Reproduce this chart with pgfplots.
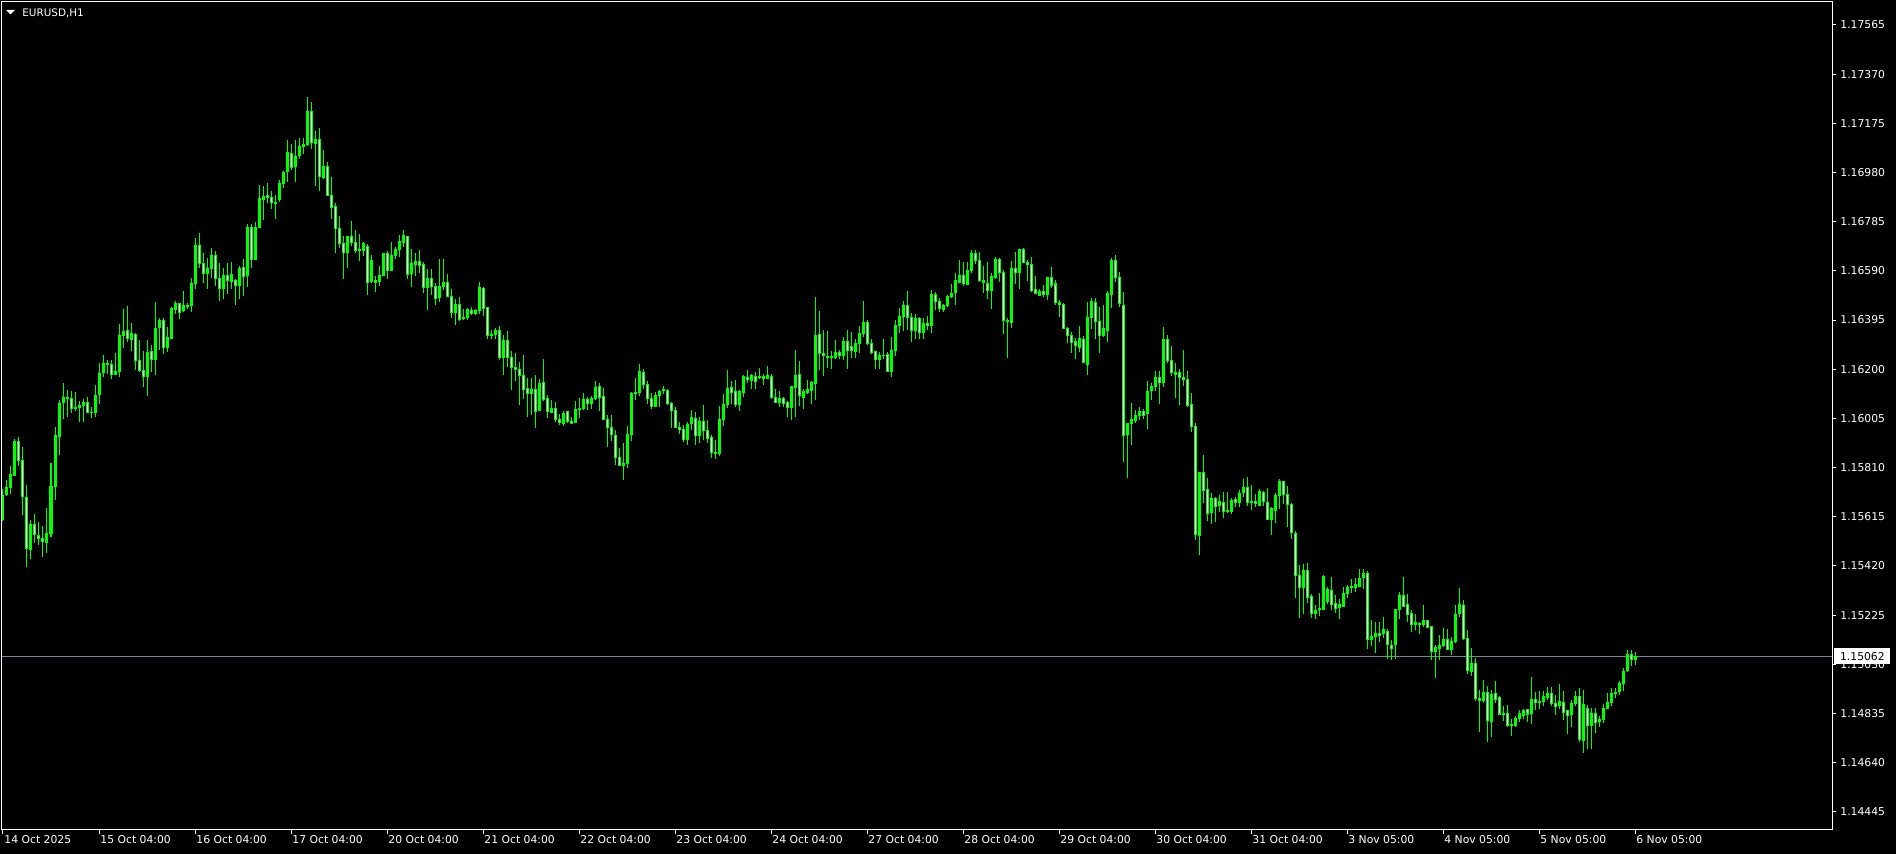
\documentclass[border=0pt]{standalone}
\usepackage{fontspec}
\setmainfont{DejaVu Sans}
\usepackage{pgfplots}
\usepackage{pgfplotstable}
\pgfplotsset{compat=1.18}
\definecolor{bar}{RGB}{0,255,0}
\definecolor{pline}{RGB}{119,136,153}

% EURUSD H1 candles: bar index, open, high, low, close
\pgfplotstableread{
i o h l c
0 1.15606 1.15727 1.15599 1.15698
1 1.15702 1.15760 1.15697 1.15731
2 1.15730 1.15816 1.15705 1.15783
3 1.15779 1.15923 1.15776 1.15914
4 1.15912 1.15931 1.15816 1.15837
5 1.15838 1.15890 1.15622 1.15694
6 1.15692 1.15741 1.15417 1.15488
7 1.15484 1.15602 1.15448 1.15586
8 1.15585 1.15628 1.15512 1.15545
9 1.15541 1.15593 1.15503 1.15528
10 1.15529 1.15577 1.15456 1.15516
11 1.15512 1.15648 1.15472 1.15549
12 1.15548 1.15828 1.15536 1.15735
13 1.15734 1.15971 1.15682 1.15938
14 1.15932 1.16078 1.15860 1.16064
15 1.16067 1.16144 1.16002 1.16088
16 1.16088 1.16117 1.16012 1.16084
17 1.16084 1.16113 1.16027 1.16043
18 1.16043 1.16109 1.16035 1.16050
19 1.16050 1.16074 1.15992 1.16058
20 1.16055 1.16082 1.15992 1.16068
21 1.16068 1.16088 1.16026 1.16029
22 1.16029 1.16049 1.16008 1.16027
23 1.16027 1.16137 1.16012 1.16096
24 1.16098 1.16223 1.16064 1.16183
25 1.16186 1.16256 1.16170 1.16223
26 1.16223 1.16236 1.16183 1.16219
27 1.16219 1.16236 1.16162 1.16178
28 1.16178 1.16263 1.16177 1.16193
29 1.16190 1.16379 1.16170 1.16334
30 1.16333 1.16439 1.16285 1.16350
31 1.16354 1.16450 1.16308 1.16321
32 1.16317 1.16383 1.16273 1.16342
33 1.16339 1.16342 1.16197 1.16234
34 1.16235 1.16316 1.16190 1.16194
35 1.16195 1.16272 1.16131 1.16170
36 1.16170 1.16314 1.16094 1.16268
37 1.16271 1.16296 1.16189 1.16238
38 1.16238 1.16465 1.16177 1.16363
39 1.16365 1.16402 1.16277 1.16395
40 1.16395 1.16402 1.16260 1.16287
41 1.16285 1.16367 1.16268 1.16325
42 1.16321 1.16445 1.16320 1.16439
43 1.16436 1.16470 1.16419 1.16461
44 1.16460 1.16461 1.16399 1.16425
45 1.16431 1.16510 1.16427 1.16453
46 1.16449 1.16461 1.16440 1.16454
47 1.16454 1.16560 1.16425 1.16540
48 1.16540 1.16720 1.16520 1.16690
49 1.16690 1.16740 1.16600 1.16620
50 1.16620 1.16660 1.16540 1.16580
51 1.16580 1.16640 1.16520 1.16600
52 1.16600 1.16680 1.16560 1.16650
53 1.16650 1.16670 1.16530 1.16560
54 1.16560 1.16620 1.16470 1.16520
55 1.16520 1.16600 1.16480 1.16570
56 1.16570 1.16620 1.16500 1.16550
57 1.16547 1.16624 1.16518 1.16577
58 1.16553 1.16559 1.16454 1.16531
59 1.16531 1.16609 1.16478 1.16601
60 1.16602 1.16637 1.16490 1.16567
61 1.16571 1.16776 1.16526 1.16762
62 1.16762 1.16776 1.16601 1.16637
63 1.16637 1.16782 1.16633 1.16762
64 1.16762 1.16930 1.16761 1.16877
65 1.16872 1.16926 1.16791 1.16885
66 1.16889 1.16938 1.16860 1.16880
67 1.16881 1.16905 1.16835 1.16860
68 1.16861 1.16891 1.16795 1.16859
69 1.16872 1.16950 1.16864 1.16937
70 1.16935 1.16986 1.16920 1.16980
71 1.16983 1.17109 1.16942 1.17060
72 1.17056 1.17093 1.16990 1.16999
73 1.17003 1.17109 1.16942 1.17044
74 1.17047 1.17117 1.17035 1.17084
75 1.17085 1.17117 1.17053 1.17093
76 1.17091 1.17279 1.17085 1.17222
77 1.17222 1.17258 1.17073 1.17099
78 1.17094 1.17144 1.16928 1.17111
79 1.17111 1.17156 1.16906 1.16963
80 1.16962 1.17069 1.16954 1.17004
81 1.17004 1.17021 1.16887 1.16888
82 1.16889 1.16962 1.16795 1.16842
83 1.16846 1.16859 1.16660 1.16757
84 1.16758 1.16807 1.16680 1.16698
85 1.16699 1.16728 1.16557 1.16662
86 1.16662 1.16729 1.16602 1.16728
87 1.16728 1.16787 1.16690 1.16701
88 1.16703 1.16752 1.16659 1.16671
89 1.16670 1.16736 1.16629 1.16675
90 1.16670 1.16705 1.16650 1.16699
91 1.16688 1.16696 1.16495 1.16543
92 1.16547 1.16653 1.16540 1.16631
93 1.16553 1.16569 1.16507 1.16543
94 1.16547 1.16609 1.16531 1.16572
95 1.16571 1.16662 1.16569 1.16659
96 1.16659 1.16667 1.16557 1.16592
97 1.16593 1.16704 1.16593 1.16651
98 1.16650 1.16686 1.16637 1.16675
99 1.16674 1.16732 1.16646 1.16707
100 1.16701 1.16752 1.16686 1.16729
101 1.16727 1.16728 1.16559 1.16575
102 1.16579 1.16676 1.16527 1.16620
103 1.16614 1.16659 1.16571 1.16627
104 1.16627 1.16672 1.16582 1.16610
105 1.16616 1.16624 1.16503 1.16524
106 1.16523 1.16597 1.16436 1.16559
107 1.16560 1.16597 1.16495 1.16527
108 1.16527 1.16543 1.16456 1.16479
109 1.16483 1.16637 1.16466 1.16527
110 1.16527 1.16637 1.16514 1.16544
111 1.16544 1.16577 1.16486 1.16487
112 1.16489 1.16520 1.16403 1.16424
113 1.16424 1.16478 1.16376 1.16457
114 1.16457 1.16486 1.16392 1.16397
115 1.16403 1.16438 1.16395 1.16405
116 1.16405 1.16442 1.16397 1.16438
117 1.16434 1.16446 1.16417 1.16420
118 1.16420 1.16440 1.16415 1.16434
119 1.16434 1.16545 1.16421 1.16524
120 1.16520 1.16526 1.16411 1.16440
121 1.16445 1.16445 1.16321 1.16334
122 1.16334 1.16355 1.16319 1.16338
123 1.16337 1.16363 1.16318 1.16354
124 1.16354 1.16371 1.16236 1.16247
125 1.16245 1.16334 1.16178 1.16314
126 1.16314 1.16351 1.16210 1.16247
127 1.16247 1.16272 1.16117 1.16207
128 1.16207 1.16266 1.16153 1.16199
129 1.16199 1.16228 1.16059 1.16174
130 1.16175 1.16256 1.16081 1.16118
131 1.16124 1.16165 1.16010 1.16103
132 1.16103 1.16166 1.16019 1.16121
133 1.16120 1.16177 1.15966 1.16034
134 1.16038 1.16161 1.16034 1.16145
135 1.16149 1.16240 1.16073 1.16081
136 1.16084 1.16096 1.16006 1.16031
137 1.16030 1.16077 1.16027 1.16044
138 1.16044 1.16069 1.15990 1.15999
139 1.16001 1.16023 1.15978 1.15988
140 1.15985 1.16036 1.15976 1.16026
141 1.16032 1.16036 1.15985 1.15994
142 1.15994 1.16009 1.15981 1.15985
143 1.15988 1.16073 1.15985 1.16040
144 1.16039 1.16085 1.16005 1.16046
145 1.16043 1.16105 1.16038 1.16079
146 1.16081 1.16088 1.16038 1.16063
147 1.16063 1.16093 1.16042 1.16084
148 1.16083 1.16153 1.16080 1.16128
149 1.16132 1.16144 1.16034 1.16089
150 1.16092 1.16125 1.15997 1.15999
151 1.16001 1.16018 1.15892 1.15968
152 1.15969 1.16018 1.15916 1.15940
153 1.15937 1.15961 1.15820 1.15849
154 1.15850 1.15887 1.15816 1.15817
155 1.15817 1.15906 1.15760 1.15826
156 1.15825 1.15974 1.15809 1.15941
157 1.15940 1.16110 1.15915 1.16105
158 1.16105 1.16165 1.16077 1.16109
159 1.16106 1.16220 1.16095 1.16191
160 1.16187 1.16199 1.16121 1.16138
161 1.16140 1.16153 1.16064 1.16083
162 1.16084 1.16105 1.16042 1.16052
163 1.16052 1.16108 1.16051 1.16096
164 1.16095 1.16117 1.16051 1.16113
165 1.16116 1.16134 1.16103 1.16120
166 1.16116 1.16120 1.16060 1.16063
167 1.16064 1.16071 1.15968 1.16035
168 1.16036 1.16050 1.15968 1.15970
169 1.15969 1.15989 1.15943 1.15960
170 1.15961 1.15978 1.15912 1.15921
171 1.15920 1.15989 1.15899 1.15981
172 1.15984 1.16038 1.15958 1.16009
173 1.16005 1.16032 1.15899 1.15936
174 1.15936 1.16011 1.15906 1.15992
175 1.15992 1.16058 1.15921 1.15956
176 1.15957 1.15998 1.15908 1.15927
177 1.15929 1.15940 1.15847 1.15871
178 1.15871 1.15921 1.15845 1.15866
179 1.15866 1.16054 1.15855 1.16001
180 1.16002 1.16101 1.15976 1.16062
181 1.16062 1.16196 1.16046 1.16124
182 1.16128 1.16153 1.16064 1.16106
183 1.16112 1.16157 1.16052 1.16060
184 1.16059 1.16117 1.16034 1.16113
185 1.16106 1.16177 1.16089 1.16171
186 1.16169 1.16196 1.16146 1.16158
187 1.16157 1.16183 1.16122 1.16175
188 1.16173 1.16190 1.16121 1.16150
189 1.16166 1.16203 1.16160 1.16173
190 1.16173 1.16181 1.16137 1.16162
191 1.16165 1.16212 1.16160 1.16177
192 1.16173 1.16183 1.16083 1.16087
193 1.16089 1.16121 1.16067 1.16069
194 1.16069 1.16113 1.16051 1.16085
195 1.16084 1.16089 1.16051 1.16066
196 1.16069 1.16075 1.16010 1.16047
197 1.16047 1.16133 1.15998 1.16133
198 1.16126 1.16276 1.16011 1.16177
199 1.16181 1.16232 1.16054 1.16096
200 1.16087 1.16120 1.16042 1.16113
201 1.16109 1.16159 1.16101 1.16120
202 1.16117 1.16153 1.16062 1.16146
203 1.16142 1.16486 1.16077 1.16334
204 1.16338 1.16430 1.16196 1.16261
205 1.16261 1.16355 1.16173 1.16253
206 1.16252 1.16351 1.16206 1.16245
207 1.16245 1.16272 1.16200 1.16252
208 1.16247 1.16315 1.16239 1.16268
209 1.16268 1.16276 1.16240 1.16255
210 1.16253 1.16327 1.16236 1.16311
211 1.16310 1.16355 1.16200 1.16274
212 1.16290 1.16346 1.16245 1.16274
213 1.16270 1.16319 1.16245 1.16302
214 1.16301 1.16371 1.16266 1.16342
215 1.16340 1.16470 1.16329 1.16385
216 1.16387 1.16397 1.16296 1.16301
217 1.16302 1.16321 1.16260 1.16268
218 1.16270 1.16272 1.16202 1.16237
219 1.16239 1.16268 1.16202 1.16255
220 1.16255 1.16319 1.16240 1.16256
221 1.16260 1.16269 1.16190 1.16192
222 1.16190 1.16327 1.16170 1.16274
223 1.16274 1.16395 1.16253 1.16375
224 1.16374 1.16441 1.16342 1.16409
225 1.16408 1.16470 1.16352 1.16453
226 1.16453 1.16510 1.16355 1.16405
227 1.16405 1.16422 1.16309 1.16352
228 1.16352 1.16418 1.16318 1.16403
229 1.16401 1.16409 1.16321 1.16347
230 1.16344 1.16405 1.16319 1.16381
231 1.16383 1.16411 1.16355 1.16372
232 1.16372 1.16514 1.16343 1.16498
233 1.16497 1.16506 1.16435 1.16468
234 1.16469 1.16481 1.16425 1.16439
235 1.16437 1.16458 1.16428 1.16451
236 1.16451 1.16495 1.16445 1.16490
237 1.16488 1.16536 1.16481 1.16501
238 1.16503 1.16583 1.16454 1.16550
239 1.16544 1.16633 1.16540 1.16570
240 1.16570 1.16625 1.16530 1.16539
241 1.16536 1.16625 1.16534 1.16592
242 1.16593 1.16673 1.16580 1.16657
243 1.16657 1.16673 1.16616 1.16630
244 1.16633 1.16663 1.16544 1.16551
245 1.16550 1.16609 1.16502 1.16543
246 1.16538 1.16625 1.16478 1.16514
247 1.16511 1.16583 1.16439 1.16566
248 1.16564 1.16645 1.16558 1.16637
249 1.16637 1.16640 1.16546 1.16583
250 1.16585 1.16593 1.16340 1.16395
251 1.16395 1.16402 1.16246 1.16390
252 1.16385 1.16629 1.16365 1.16600
253 1.16600 1.16665 1.16539 1.16583
254 1.16583 1.16673 1.16518 1.16673
255 1.16673 1.16681 1.16620 1.16622
256 1.16622 1.16633 1.16551 1.16614
257 1.16617 1.16645 1.16507 1.16514
258 1.16517 1.16570 1.16497 1.16501
259 1.16492 1.16519 1.16489 1.16510
260 1.16509 1.16534 1.16488 1.16497
261 1.16497 1.16564 1.16474 1.16564
262 1.16564 1.16605 1.16523 1.16534
263 1.16538 1.16554 1.16454 1.16464
264 1.16464 1.16474 1.16406 1.16457
265 1.16458 1.16464 1.16358 1.16362
266 1.16362 1.16369 1.16306 1.16334
267 1.16334 1.16349 1.16265 1.16305
268 1.16308 1.16322 1.16240 1.16295
269 1.16288 1.16371 1.16267 1.16320
270 1.16318 1.16332 1.16226 1.16226
271 1.16218 1.16468 1.16178 1.16406
272 1.16404 1.16481 1.16359 1.16469
273 1.16466 1.16481 1.16320 1.16388
274 1.16390 1.16445 1.16264 1.16333
275 1.16333 1.16453 1.16326 1.16362
276 1.16355 1.16510 1.16309 1.16501
277 1.16497 1.16640 1.16443 1.16633
278 1.16633 1.16653 1.16547 1.16563
279 1.16564 1.16585 1.16448 1.16460
280 1.16453 1.16506 1.15832 1.15936
281 1.15940 1.15988 1.15770 1.15985
282 1.15984 1.16065 1.15899 1.16000
283 1.15998 1.16038 1.15985 1.16018
284 1.16018 1.16049 1.15998 1.16034
285 1.16034 1.16042 1.16002 1.16018
286 1.16024 1.16153 1.15963 1.16112
287 1.16115 1.16144 1.16080 1.16132
288 1.16131 1.16193 1.16113 1.16168
289 1.16168 1.16193 1.16062 1.16146
290 1.16146 1.16367 1.16131 1.16316
291 1.16316 1.16336 1.16224 1.16234
292 1.16235 1.16292 1.16174 1.16186
293 1.16186 1.16226 1.16087 1.16180
294 1.16187 1.16201 1.16058 1.16168
295 1.16168 1.16276 1.16135 1.16160
296 1.16160 1.16193 1.16051 1.16058
297 1.16060 1.16105 1.15952 1.15972
298 1.15972 1.15986 1.15522 1.15545
299 1.15540 1.15791 1.15463 1.15791
300 1.15791 1.15860 1.15670 1.15721
301 1.15723 1.15768 1.15599 1.15628
302 1.15631 1.15709 1.15587 1.15688
303 1.15688 1.15693 1.15595 1.15655
304 1.15659 1.15700 1.15635 1.15676
305 1.15670 1.15713 1.15610 1.15635
306 1.15637 1.15715 1.15631 1.15641
307 1.15635 1.15688 1.15627 1.15680
308 1.15685 1.15692 1.15652 1.15670
309 1.15670 1.15722 1.15652 1.15709
310 1.15710 1.15764 1.15694 1.15733
311 1.15733 1.15772 1.15659 1.15670
312 1.15670 1.15741 1.15641 1.15676
313 1.15677 1.15705 1.15652 1.15667
314 1.15661 1.15727 1.15659 1.15715
315 1.15713 1.15718 1.15659 1.15674
316 1.15673 1.15729 1.15602 1.15606
317 1.15606 1.15653 1.15542 1.15647
318 1.15641 1.15709 1.15590 1.15701
319 1.15701 1.15764 1.15645 1.15755
320 1.15755 1.15758 1.15665 1.15702
321 1.15705 1.15737 1.15574 1.15663
322 1.15665 1.15670 1.15526 1.15552
323 1.15549 1.15560 1.15294 1.15381
324 1.15381 1.15422 1.15214 1.15333
325 1.15333 1.15426 1.15229 1.15403
326 1.15403 1.15431 1.15274 1.15295
327 1.15300 1.15308 1.15214 1.15233
328 1.15230 1.15265 1.15209 1.15245
329 1.15246 1.15312 1.15222 1.15253
330 1.15247 1.15386 1.15245 1.15380
331 1.15278 1.15337 1.15271 1.15327
332 1.15324 1.15376 1.15245 1.15266
333 1.15271 1.15304 1.15234 1.15250
334 1.15255 1.15288 1.15209 1.15269
335 1.15261 1.15337 1.15258 1.15312
336 1.15311 1.15344 1.15291 1.15333
337 1.15333 1.15368 1.15314 1.15337
338 1.15333 1.15372 1.15318 1.15347
339 1.15340 1.15407 1.15337 1.15372
340 1.15373 1.15407 1.15328 1.15392
341 1.15390 1.15400 1.15090 1.15128
342 1.15128 1.15205 1.15102 1.15142
343 1.15139 1.15197 1.15076 1.15152
344 1.15152 1.15197 1.15119 1.15144
345 1.15151 1.15216 1.15135 1.15168
346 1.15160 1.15172 1.15050 1.15109
347 1.15106 1.15126 1.15047 1.15091
348 1.15107 1.15249 1.15050 1.15249
349 1.15247 1.15318 1.15210 1.15304
350 1.15304 1.15376 1.15258 1.15261
351 1.15268 1.15309 1.15198 1.15228
352 1.15230 1.15245 1.15158 1.15187
353 1.15187 1.15230 1.15165 1.15194
354 1.15191 1.15199 1.15152 1.15186
355 1.15187 1.15265 1.15178 1.15204
356 1.15204 1.15206 1.15173 1.15175
357 1.15181 1.15181 1.15047 1.15081
358 1.15080 1.15106 1.14977 1.15097
359 1.15091 1.15146 1.15046 1.15105
360 1.15103 1.15174 1.15100 1.15129
361 1.15129 1.15170 1.15087 1.15088
362 1.15088 1.15140 1.15067 1.15122
363 1.15120 1.15264 1.15113 1.15228
364 1.15230 1.15331 1.15219 1.15269
365 1.15264 1.15285 1.15126 1.15132
366 1.15133 1.15166 1.14992 1.15005
367 1.15003 1.15096 1.14984 1.15035
368 1.15034 1.15055 1.14886 1.14894
369 1.14894 1.14928 1.14763 1.14886
370 1.14886 1.14968 1.14877 1.14920
371 1.14919 1.14944 1.14723 1.14806
372 1.14802 1.14929 1.14743 1.14912
373 1.14915 1.14964 1.14875 1.14891
374 1.14898 1.14904 1.14829 1.14833
375 1.14833 1.14866 1.14806 1.14835
376 1.14835 1.14869 1.14783 1.14787
377 1.14788 1.14812 1.14746 1.14793
378 1.14788 1.14825 1.14781 1.14817
379 1.14816 1.14849 1.14801 1.14833
380 1.14829 1.14854 1.14813 1.14845
381 1.14849 1.14853 1.14801 1.14833
382 1.14835 1.14980 1.14793 1.14891
383 1.14891 1.14919 1.14849 1.14879
384 1.14878 1.14924 1.14851 1.14884
385 1.14882 1.14923 1.14866 1.14904
386 1.14900 1.14940 1.14888 1.14915
387 1.14915 1.14940 1.14863 1.14873
388 1.14875 1.14907 1.14829 1.14862
389 1.14865 1.14951 1.14851 1.14883
390 1.14879 1.14923 1.14809 1.14838
391 1.14845 1.14849 1.14754 1.14826
392 1.14830 1.14888 1.14783 1.14875
393 1.14876 1.14924 1.14865 1.14903
394 1.14903 1.14935 1.14723 1.14731
395 1.14727 1.14928 1.14680 1.14869
396 1.14855 1.14869 1.14694 1.14788
397 1.14787 1.14855 1.14694 1.14835
398 1.14835 1.14855 1.14759 1.14798
399 1.14802 1.14826 1.14783 1.14813
400 1.14812 1.14871 1.14798 1.14855
401 1.14855 1.14916 1.14851 1.14879
402 1.14879 1.14937 1.14866 1.14915
403 1.14913 1.14935 1.14895 1.14920
404 1.14921 1.14962 1.14907 1.14952
405 1.14954 1.15015 1.14925 1.15003
406 1.15006 1.15087 1.15001 1.15069
407 1.15069 1.15087 1.15025 1.15050
408 1.15050 1.15079 1.15027 1.15062
}\eurusd

\begin{document}
\begin{tikzpicture}
\path[use as bounding box] (-1pt,-12pt) rectangle (947pt,415pt);
\fill[black] (-1pt,-12pt) rectangle (947pt,415pt);
\begin{axis}[
  scale only axis,
  width=915pt, height=414pt,
  xmin=-0.25, xmax=457.25,
  ymin=1.143731, ymax=1.176562,
  axis line style={white, line width=0.5pt},
  tick style={white, line width=0.5pt},
  tick align=outside,
  major tick length=2pt,
  xtick pos=left, ytick pos=right,
  yticklabel pos=right,
  scaled y ticks=false,
  xtick={0,24,...,408},
  xticklabels={14 Oct 2025, 15 Oct 04:00, 16 Oct 04:00, 17 Oct 04:00, 20 Oct 04:00, 21 Oct 04:00, 22 Oct 04:00, 23 Oct 04:00, 24 Oct 04:00, 27 Oct 04:00, 28 Oct 04:00, 29 Oct 04:00, 30 Oct 04:00, 31 Oct 04:00, 3 Nov 05:00, 4 Nov 05:00, 5 Nov 05:00, 6 Nov 05:00},
  ytick={1.14445,1.14640,1.14835,1.15030,1.15225,1.15420,1.15615,1.15810,1.16005,1.16200,1.16395,1.16590,1.16785,1.16980,1.17175,1.17370,1.17565},
  yticklabels={1.14445,1.14640,1.14835,1.15030,1.15225,1.15420,1.15615,1.15810,1.16005,1.16200,1.16395,1.16590,1.16785,1.16980,1.17175,1.17370,1.17565},
  ticklabel style={text=white, font=\fontsize{5.4}{6}\selectfont},
  xticklabel style={anchor=north west, inner sep=0pt, xshift=0.5pt, yshift=-0.5pt},
  yticklabel style={anchor=west, inner sep=0pt, xshift=2pt},
]
% last price line
\draw[pline, line width=0.5pt] (axis cs:-0.25,1.15062) -- (axis cs:457.25,1.15062);
\coordinate (pl) at (axis cs:457.25,1.15062);
% wicks
\addplot[draw=none, forget plot, error bars/.cd, y dir=plus, y explicit, error mark=none,
  error bar style={draw=bar, line width=0.5pt}]
  table[x=i, y=l, y error plus expr=\thisrow{h}-\thisrow{l}] {\eurusd};
% bodies (outline)
\addplot[draw=none, forget plot, error bars/.cd, y dir=plus, y explicit, error mark=none,
  error bar style={draw=bar, line width=1.5pt}]
  table[x=i, y expr={min(\thisrow{o},\thisrow{c})-0.00002},
        y error plus expr={abs(\thisrow{o}-\thisrow{c})+0.00004}] {\eurusd};
% bear bodies filled white
\addplot[draw=none, forget plot, restrict expr to domain={\thisrow{o}-\thisrow{c}}{0.00008:1},
  error bars/.cd, y dir=plus, y explicit, error mark=none,
  error bar style={draw=white, line width=0.5pt}]
  table[x=i, y expr={\thisrow{c}+0.00002},
        y error plus expr={\thisrow{o}-\thisrow{c}-0.00004}] {\eurusd};
\end{axis}
% chart title
\fill[white] (2pt,410pt) -- (6.5pt,410pt) -- (4.25pt,407.8pt) -- cycle;
\node[anchor=west, inner sep=0pt, text=white, font=\fontsize{5.2}{6}\selectfont] at (10pt,408.3pt) {EURUSD,H1};
% last price label
\node[fill=white, text=black, anchor=west, inner sep=0pt, minimum width=28pt, minimum height=7.8pt,
  font=\fontsize{5.4}{6}\selectfont] at ([xshift=1pt]pl) {1.15062};
\end{tikzpicture}
\end{document}
